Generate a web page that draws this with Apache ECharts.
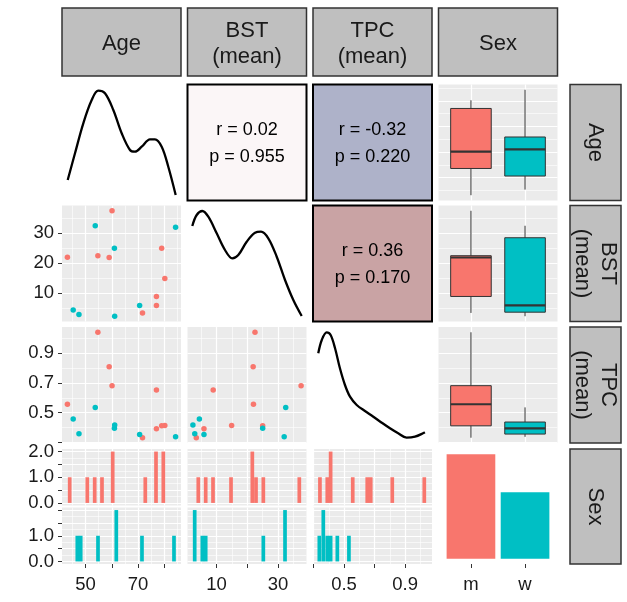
<!DOCTYPE html>
<html>
<head>
<meta charset="utf-8">
<script src="https://cdn.jsdelivr.net/npm/echarts@6/dist/echarts.min.js"></script>
<style>
  html, body { margin: 0; padding: 0; background: #fff; }
  #chart { width: 627px; height: 602px; }
</style>
</head>
<body>
<div id="chart"></div>
<script>
const RED = '#F8766D';
const CYAN = '#00BFC4';
const FONT = 'Liberation Sans';

const sex = ['m', 'm', 'm', 'm', 'm', 'm', 'm', 'm', 'm', 'm', 'm', 'w', 'w', 'w', 'w', 'w', 'w', 'w'];
const age = [54.7, 59.0, 60.1, 43.1, 77.0, 77.0, 79.0, 80.2, 71.7, 49.8, 52.4, 53.7, 84.3, 61.0, 45.3, 47.5, 70.6, 61.1];
const bst = [22.5, 21.9, 37.5, 22.0, 8.9, 5.9, 25.0, 14.9, 3.4, null, null, 32.5, 32.0, 25.0, 4.4, 2.9, 5.9, 2.3];
const tpc = [1.041, 0.810, 0.682, 0.557, 0.653, 0.392, 0.412, 0.415, 0.332, null, null, 0.536, 0.338, 0.395, 0.458, 0.359, 0.354, 0.417];

const sexLevels = ['m', 'w'];
const sexCounts = [11, 7];

// histogram bars [bin centre, count] per sex
const ageHistM = [[43.97, 1], [50.67, 1], [53.49, 1], [56.27, 1], [60.35, 2], [72.76, 1], [76.84, 2], [79.62, 2]];
const ageHistW = [[46.87, 1], [48.16, 1], [54.75, 1], [61.72, 2], [71.5, 1], [83.69, 1]];
const bstHistM = [[4.05, 1], [6.46, 1], [8.84, 1], [14.7, 1], [21.63, 2], [22.83, 1], [25.21, 1], [36.92, 1]];
const bstHistW = [[2.88, 2], [5.36, 1], [6.46, 1], [25.21, 1], [32.27, 2]];
const tpcHistM = [[0.342, 1], [0.390, 1], [0.412, 2], [0.557, 1], [0.652, 1], [0.675, 1], [0.816, 1], [1.026, 1]];
const tpcHistW = [[0.338, 1], [0.364, 2], [0.390, 1], [0.412, 1], [0.456, 1], [0.532, 1]];

// density curves on the diagonal
const ageDensity = [[43.21, 0.00566], [45.99, 0.01302], [49.15, 0.0213], [52.35, 0.02772], [54.86, 0.03029], [57.41, 0.02957],
  [60.58, 0.02497], [63.77, 0.01854], [66.93, 0.01393], [68.84, 0.01346], [71.39, 0.01484], [74.55, 0.01688],
  [76.45, 0.01688], [79.01, 0.01484], [81.52, 0.00932], [84.34, 0.00152]];
const bstDensity = [[2.10, 0.04116], [3.53, 0.04591], [5.36, 0.04763], [7.31, 0.04517], [10.04, 0.03802], [12.74, 0.03082],
  [15.12, 0.02724], [17.07, 0.02866], [19.80, 0.0344], [22.51, 0.03828], [24.46, 0.03871], [26.83, 0.03586],
  [29.57, 0.02793], [32.27, 0.01789], [34.97, 0.00927], [37.70, 0.00237]];
const tpcDensity = [[0.331, 3.866], [0.354, 4.44], [0.386, 4.772], [0.412, 4.655], [0.441, 4.082], [0.473, 3.22], [0.506, 2.5],
  [0.539, 1.996], [0.583, 1.638], [0.637, 1.379], [0.692, 1.134], [0.747, 0.875], [0.801, 0.634], [0.855, 0.418],
  [0.910, 0.228], [0.965, 0.272], [1.030, 0.461]];

// correlation panels
const corrLabels = { '0-1': 'r = 0.02\np = 0.955', '0-2': 'r = -0.32\np = 0.220', '1-2': 'r = 0.36\np = 0.170' };
const corrColors = { '0-1': '#FBF6F7', '0-2': '#AEB2C9', '1-2': '#C9A3A4' };

const stripNames = ['Age', 'BST\n(mean)', 'TPC\n(mean)', 'Sex'];

// ticks / grid lines / tick labels
const ageTicks = [50, 60, 70, 80], ageMinor = [45, 55, 65, 75, 85], ageLabels = [50, 70];
const bstTicks = [10, 20, 30], bstMinor = [5, 15, 25, 35], bstLabels = [10, 30], bstRowLabels = [10, 20, 30];
const tpcTicks = [0.3, 0.5, 0.7, 0.9], tpcMinor = [0.4, 0.6, 0.8, 1.0], tpcLabels = [0.5, 0.9], tpcRowLabels = [0.5, 0.7, 0.9];
const countTicks = [0, 0.5, 1, 1.5, 2], countMinor = [0.25, 0.75, 1.25, 1.75];
const countLabelsTop = [0, 1, 2], countLabelsBottom = [0, 1];

// layout
const colLeft = [62, 187.5, 313, 438.5];
const colWidth = 119;
const rowTop = [84.5, 205.5, 327, 449];
const rowHeight = [116, 116, 116, 115];
const PANEL_BG = '#EBEBEB';
const labelFont = { fontFamily: FONT, fontSize: 18.5, color: '#1a1a1a' };

const fmtInt = v => String(Math.round(v));
const fmt1 = v => v.toFixed(1);

const scales = {
  age: { min: 41.04, max: 86.36, major: ageTicks, minor: ageMinor, fmt: fmtInt },
  bst: { min: 0.54, max: 39.26, major: bstTicks, minor: bstMinor, fmt: fmtInt },
  tpc: { min: 0.2965, max: 1.0765, major: tpcTicks, minor: tpcMinor, fmt: fmt1 },
  sex: { min: 0.4, max: 2.6, major: [1, 2], minor: [], fmt: v => sexLevels[Math.round(v) - 1] },
  count: { min: -0.1, max: 2.1, major: countTicks, minor: countMinor, fmt: fmt1 },
  sexCount: { min: -0.55, max: 11.55, major: [], minor: [] },
  ageDens: { min: 0, max: 0.032, major: [], minor: [] },
  bstDens: { min: 0, max: 0.05, major: [], minor: [] },
  tpcDens: { min: 0, max: 5, major: [], minor: [] },
};
const vars = ['age', 'bst', 'tpc'];
const values = { age, bst, tpc };
const bottomLabels = { age: ageLabels, bst: bstLabels, tpc: tpcLabels };
const rowLabels = { bst: bstRowLabels, tpc: tpcRowLabels };
const densities = { age: ageDensity, bst: bstDensity, tpc: tpcDensity };
const hists = { age: [ageHistM, ageHistW], bst: [bstHistM, bstHistW], tpc: [tpcHistM, tpcHistW] };

const option = { animation: false, grid: [], xAxis: [], yAxis: [], series: [], graphic: [] };

function addGrid(left, top, width, height, style) {
  option.grid.push(Object.assign({ left, top, width, height, show: true, borderWidth: 0, backgroundColor: 'transparent' }, style || {}));
  return option.grid.length - 1;
}

function addAxis(dim, gridIndex, sc, opt) {
  opt = opt || {};
  const list = dim === 'x' ? option.xAxis : option.yAxis;
  list.push({
    type: 'value', gridIndex, min: sc.min, max: sc.max,
    position: dim === 'x' ? 'bottom' : 'left',
    axisLine: { show: false, onZero: false },
    axisTick: { show: !!opt.ticks, customValues: opt.values || sc.major, length: 4, lineStyle: { color: '#333', width: 1 } },
    axisLabel: opt.labels
      ? Object.assign({ show: true, customValues: opt.labels, formatter: sc.fmt, margin: dim === 'x' ? 11 : 8 }, labelFont)
      : { show: false },
    splitLine: { show: !!opt.grid, lineStyle: { color: '#fff', width: opt.width || 1.2 } },
  });
  return list.length - 1;
}

// grid with major and minor white lines (ggplot grey panel)
function panelAxes(gi, xs, ys, opt) {
  opt = opt || {};
  const xi = addAxis('x', gi, xs, { grid: opt.grid, ticks: opt.xTicks, labels: opt.xLabels });
  const yi = addAxis('y', gi, ys, { grid: opt.grid, ticks: opt.yTicks, labels: opt.yLabels });
  if (opt.grid) {
    if (xs.minor.length) addAxis('x', gi, xs, { grid: true, values: xs.minor, width: 0.6 });
    if (ys.minor.length) addAxis('y', gi, ys, { grid: true, values: ys.minor, width: 0.6 });
  }
  return [xi, yi];
}

function quantile(sorted, p) {
  const h = (sorted.length - 1) * p;
  const lo = Math.floor(h);
  const hi = Math.min(lo + 1, sorted.length - 1);
  return sorted[lo] + (h - lo) * (sorted[hi] - sorted[lo]);
}

function boxRow(v, k) {
  const s = values[v].filter((x, i) => x != null && sex[i] === sexLevels[k]).sort((a, b) => a - b);
  return [k + 1, s[0], quantile(s, 0.25), quantile(s, 0.5), quantile(s, 0.75), s[s.length - 1]];
}

function renderBox(params, api) {
  const x = api.value(0);
  const half = 0.375;
  const q1 = api.coord([x - half, api.value(2)]);
  const q3 = api.coord([x + half, api.value(4)]);
  const lo = api.coord([x, api.value(1)]);
  const hi = api.coord([x, api.value(5)]);
  const med = api.coord([x, api.value(3)]);
  const stroke = '#333';
  return {
    type: 'group',
    children: [
      { type: 'line', shape: { x1: hi[0], y1: hi[1], x2: lo[0], y2: lo[1] }, style: { stroke, lineWidth: 1 } },
      { type: 'rect', shape: { x: q1[0], y: q3[1], width: q3[0] - q1[0], height: q1[1] - q3[1] },
        style: { fill: x === 1 ? RED : CYAN, stroke, lineWidth: 1 } },
      { type: 'line', shape: { x1: q1[0], y1: med[1], x2: q3[0], y2: med[1] }, style: { stroke, lineWidth: 2.2 } },
    ],
  };
}

for (let r = 0; r < 4; r++) {
  for (let c = 0; c < 4; c++) {
    const left = colLeft[c], top = rowTop[r], w = colWidth, h = rowHeight[r];
    const key = r + '-' + c;

    if (r === c && c < 3) {
      // density on the diagonal
      const v = vars[c];
      const gi = addGrid(left, top, w, h);
      const [xi, yi] = panelAxes(gi, scales[v], scales[v + 'Dens']);
      option.series.push({
        type: 'line', xAxisIndex: xi, yAxisIndex: yi, data: densities[v], smooth: 0.35,
        showSymbol: false, lineStyle: { color: '#000', width: 2.3 }, clip: false,
      });
    } else if (r < c && c < 3) {
      // correlation text
      const gi = addGrid(left, top, w, h, { backgroundColor: corrColors[key], borderColor: '#000', borderWidth: 2 });
      panelAxes(gi, scales[vars[c]], scales[vars[r]]);
      option.graphic.push({
        type: 'text', x: left + w / 2, y: top + h / 2 + 1,
        style: { text: corrLabels[key], fill: '#000', font: '18px "' + FONT + '"', align: 'center', verticalAlign: 'middle', lineHeight: 27 },
      });
    } else if (c === 3 && r < 3) {
      // boxplots by sex
      const v = vars[r];
      const gi = addGrid(left, top, w, h, { backgroundColor: PANEL_BG });
      const [xi, yi] = panelAxes(gi, scales.sex, scales[v], { grid: true });
      option.series.push({
        type: 'custom', xAxisIndex: xi, yAxisIndex: yi, renderItem: renderBox,
        data: [boxRow(v, 0), boxRow(v, 1)],
      });
    } else if (r === 3 && c < 3) {
      // faceted histograms, m on top and w below
      const v = vars[c];
      const fh = (h - 2) / 2;
      [0, 1].forEach(k => {
        const gi = addGrid(left, top + k * (fh + 2), w, fh, { backgroundColor: PANEL_BG });
        const [xi, yi] = panelAxes(gi, scales[v], scales.count, {
          grid: true,
          xTicks: k === 1, xLabels: k === 1 ? bottomLabels[v] : null,
          yTicks: c === 0, yLabels: c === 0 ? (k === 0 ? countLabelsTop : countLabelsBottom) : null,
        });
        option.series.push({
          type: 'bar', xAxisIndex: xi, yAxisIndex: yi, data: hists[v][k], barWidth: 3.7,
          itemStyle: { color: k === 0 ? RED : CYAN },
        });
      });
    } else if (r === 3 && c === 3) {
      // sex counts
      const gi = addGrid(left, top, w, h);
      const [xi, yi] = panelAxes(gi, scales.sex, scales.sexCount, { xTicks: true, xLabels: [1, 2] });
      option.series.push({
        type: 'bar', xAxisIndex: xi, yAxisIndex: yi, barWidth: 0.9 * w / 2.2,
        data: sexCounts.map((n, k) => ({ value: [k + 1, n], itemStyle: { color: k === 0 ? RED : CYAN } })),
      });
    } else {
      // scatter
      const vx = vars[c], vy = vars[r];
      const gi = addGrid(left, top, w, h, { backgroundColor: PANEL_BG });
      const [xi, yi] = panelAxes(gi, scales[vx], scales[vy], {
        grid: true, yTicks: c === 0, yLabels: c === 0 ? rowLabels[vy] : null,
      });
      sexLevels.forEach((s, k) => {
        const pts = [];
        sex.forEach((sx, i) => {
          if (sx === s && values[vx][i] != null && values[vy][i] != null) pts.push([values[vx][i], values[vy][i]]);
        });
        option.series.push({
          type: 'scatter', xAxisIndex: xi, yAxisIndex: yi, data: pts, symbolSize: 5.5,
          itemStyle: { color: k === 0 ? RED : CYAN, opacity: 1 },
        });
      });
    }
  }
}

// strips: top and right
const stripStyle = { fill: '#BFBFBF', stroke: '#333', lineWidth: 1.5 };
const stripFont = '22px "' + FONT + '"';
stripNames.forEach((name, i) => {
  option.graphic.push({ type: 'rect', shape: { x: colLeft[i], y: 8, width: colWidth, height: 68 }, style: stripStyle });
  option.graphic.push({
    type: 'text', x: colLeft[i] + colWidth / 2, y: 44,
    style: { text: name, fill: '#1a1a1a', font: stripFont, align: 'center', verticalAlign: 'middle', lineHeight: 26 },
  });
  option.graphic.push({ type: 'rect', shape: { x: 570, y: rowTop[i], width: 51, height: rowHeight[i] }, style: stripStyle });
  option.graphic.push({
    type: 'text', x: 595.5, y: rowTop[i] + rowHeight[i] / 2, rotation: -Math.PI / 2,
    style: { text: name, fill: '#1a1a1a', font: stripFont, align: 'center', verticalAlign: 'middle', lineHeight: 26 },
  });
});

const chart = echarts.init(document.getElementById('chart'));
chart.setOption(option);
</script>
</body>
</html>
